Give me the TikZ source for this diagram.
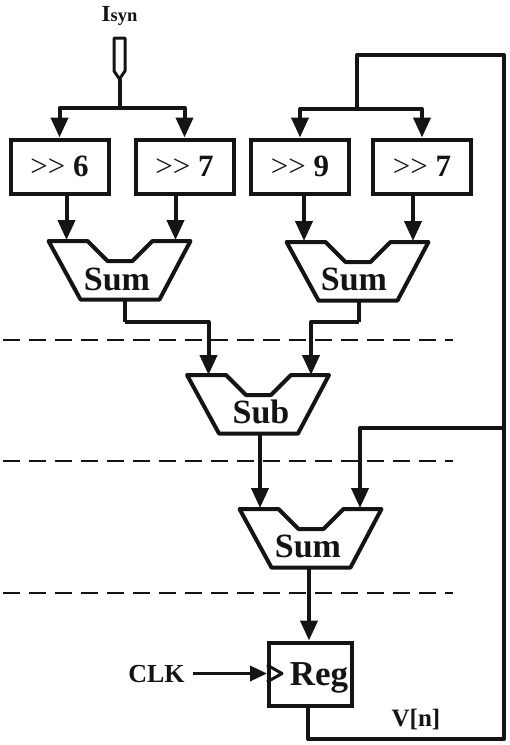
\documentclass[tikz,border=0pt]{standalone}
\usepackage{fontspec}
\setmainfont{Liberation Serif}
\definecolor{wireblack}{RGB}{20, 20, 20}
\usetikzlibrary{arrows.meta, positioning}

\tikzset{
  mux/.pic={
    \draw [wireblack, line width=4pt, line join=round, fill=white] (-71,-29) -- (-32,-29) -- (-12,-9) -- (13,-9) -- (33,-29) -- (71,-29) -- (40,29.5) -- (-39,29.5) -- cycle;
  }
}

\begin{document}
\begin{tikzpicture}[x=1pt, y=-1pt, node distance=125pt, auto]
  \tikzstyle{block} = [rectangle, draw=wireblack, line width=4pt, text=wireblack, inner sep=0pt, minimum width=98pt, minimum height=54pt, font=\fontsize{31}{31}\selectfont]
  \tikzstyle{line} = [draw=wireblack, line width=4pt, line join=round, -{Triangle[length=20pt, width=17pt]}]
  \tikzstyle{wire} = [draw=wireblack, line width=4pt, line join=round]
  \tikzstyle{cut} = [draw=wireblack, line width=1.5pt, dash pattern=on 17pt off 9pt]
  \tikzstyle{muxlabel} = [anchor=base, inner sep=0pt, text=wireblack, font=\fontsize{34}{34}\selectfont\bfseries]
  \tikzstyle{signal} = [anchor=base, inner sep=0pt, text=wireblack, font=\fontsize{25}{25}\selectfont\bfseries]

  \useasboundingbox (0,0) rectangle (510,745);

  % pipeline cuts
  \coordinate (cut1a) at (3,340);   \coordinate (cut1b) at (453,340);
  \coordinate (cut2a) at (3,461);   \coordinate (cut2b) at (453,461);
  \coordinate (cut3a) at (3,593);   \coordinate (cut3b) at (453,593);
  \draw [cut] (cut1a) -- (cut1b);
  \draw [cut] (cut2a) -- (cut2b);
  \draw [cut] (cut3a) -- (cut3b);

  % shifters
  \node [block] at (59.5,166.5) (shift6) {>{}> \textbf{6}};
  \node [block, right of=shift6] (shift7a) {>{}> \textbf{7}};
  \node [block, right of=shift7a, node distance=115.5pt] (shift9) {>{}> \textbf{9}};
  \node [block, right of=shift9, node distance=122pt] (shift7b) {>{}> \textbf{7}};

  % adders
  \pic at (119.5,270) {mux};
  \pic at (357.5,271) {mux};
  \pic at (258,404) {mux};
  \pic at (310.5,538) {mux};
  \node [muxlabel] at (117,290) (sum1) {Sum};
  \node [muxlabel] at (354,290.5) (sum2) {Sum};
  \node [muxlabel] at (261,423) (sub) {Sub};
  \node [muxlabel] at (308,557) (sum3) {Sum};

  % register
  \node [block, minimum width=83pt, minimum height=63pt] at (310,674) (reg) {};
  \node [muxlabel, font=\fontsize{35}{35}\selectfont\bfseries] at (319,685) (reglabel) {Reg};
  \coordinate (clka) at (267,665);  \coordinate (clkb) at (282,673.5);  \coordinate (clkc) at (267,682);
  \draw [wire, line width=3pt] (clka) -- (clkb) -- (clkc);

  % input pad
  \node [anchor=base, inner sep=0pt, text=wireblack, font=\bfseries] at (119.5,21) (isyn) {\fontsize{23}{23}\selectfont I\fontsize{18.5}{18.5}\selectfont syn};
  \coordinate (padtl) at (114,38);  \coordinate (padtr) at (125,38);
  \coordinate (padr) at (125,71);   \coordinate (padtip) at (119.5,79);  \coordinate (padl) at (114,71);
  \draw [wire, line width=3pt] (padtl) -- (padtr) -- (padr) -- (padtip) -- (padl) -- cycle;
  \coordinate (isplit) at (119.5,108);
  \draw [wire] (padtip) -- (isplit);
  \path [line] (isplit) -| (shift6.north);
  \path [line] (isplit) -| (shift7a.north);

  % shifters to adders
  \coordinate (sum1a) at (66.5,240);   \coordinate (sum1b) at (175.5,240);
  \coordinate (sum2a) at (304,241);    \coordinate (sum2b) at (413,241);
  \path [line] (sum1a |- shift6.south) -- (sum1a);
  \path [line] (sum1b |- shift7a.south) -- (sum1b);
  \path [line] (sum2a |- shift9.south) -- (sum2a);
  \path [line] (sum2b |- shift7b.south) -- (sum2b);

  % adders to subtractor
  \coordinate (sum1out) at (124.5,300);  \coordinate (sum2out) at (359,300);
  \coordinate (suba) at (208.5,375);     \coordinate (subb) at (311,375);
  \coordinate (join1) at (124.5,322);    \coordinate (join2) at (359,322);
  \draw [wire] (sum1out) -- (join1);
  \draw [wire] (sum2out) -- (join2);
  \path [line] (join1) -| (suba);
  \path [line] (join2) -| (subb);

  % subtractor to adder to register
  \coordinate (subout) at (260,434);     \coordinate (sum3a) at (260,508);
  \coordinate (sum3b) at (360,508);      \coordinate (sum3out) at (309,567);
  \path [line] (subout) -- (sum3a);
  \path [line] (sum3out) -- (sum3out |- reg.north);

  % clock
  \node [signal, font=\fontsize{26}{26}\selectfont\bfseries] at (156.5,682) (clk) {CLK};
  \coordinate (clkstart) at (193,673.5);
  \path [line, line width=3.5pt, -{Triangle[length=17pt, width=15pt]}] (clkstart) -- (clka |- clkstart);

  % feedback
  \node [signal] at (416,726) (vn) {V[n]};
  \coordinate (regout) at (308,706);     \coordinate (fbbottom) at (308,739);
  \coordinate (fbcorner) at (503.5,739); \coordinate (fbtop) at (503.5,55);
  \coordinate (fbdrop) at (357,55);      \coordinate (vsplit) at (357,109);
  \coordinate (fbtap) at (503.5,428);    \coordinate (fbleft) at (360,428);
  \draw [wire] (regout) -- (fbbottom) -- (fbcorner) -- (fbtop) -- (fbdrop) -- (vsplit);
  \path [line] (vsplit) -| (shift9.north);
  \path [line] (vsplit) -| (shift7b.north);
  \path [line] (fbtap) -- (fbleft) -- (sum3b);
\end{tikzpicture}
\end{document}
